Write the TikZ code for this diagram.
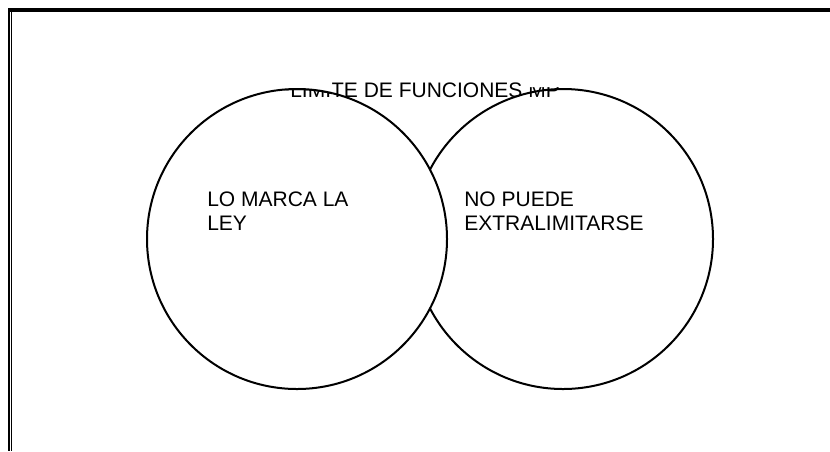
\documentclass[tikz,border=0pt]{standalone}
\usepackage{fontspec}
\setmainfont{Liberation Sans}

\begin{document}
\begin{tikzpicture}[x=0.75pt, y=-0.75pt, every node/.style={font=\fontsize{15.75}{18}\selectfont, inner sep=0pt}]

% --- Sizes, in pixels of the page ---
\def\pageW{830}
\def\pageH{451}
\def\setR{150}
\pgfmathsetmacro{\setD}{2*\setR*0.75}

\tikzset{
  vennset/.style={circle, draw=black, fill=white, line width=1.5pt, minimum size=\setD pt},
  setlabel/.style={anchor=north west, align=left}
}

\useasboundingbox (0,0) rectangle (\pageW,\pageH);

% --- Page frame ---
\draw[line width=3pt] (8,10) -- (\pageW,10);
\draw[line width=1.5pt] (9,8) -- (9,\pageH);
\draw[line width=0.75pt] (11.5,12) -- (11.5,\pageH);

% --- The two sets, the left one on top ---
\node[vennset] (rightset) at (563,239) {};
\node[vennset] (leftset) at (297,239) {};

% --- Title ---
\node[anchor=base west] (title) at (290,97) {LIMITE DE FUNCIONES MP};

% --- Title cut off above the arcs ---
\begin{scope}
  \clip (285,70) rectangle (332,100);
  \fill[white, even odd rule] (285,70) rectangle (332,100) (leftset.center) circle (\setR);
  \draw[line width=1.5pt] (leftset.center) circle (\setR);
\end{scope}
\begin{scope}
  \clip (525,70) rectangle (570,87);
  \fill[white, even odd rule] (525,70) rectangle (570,87) (rightset.center) circle (\setR);
  \draw[line width=1.5pt] (rightset.center) circle (\setR);
\end{scope}

% --- Labels inside the sets ---
\node[setlabel] (lawtext) at (207,192) {LO MARCA LA\\LEY};
\node[setlabel] (limittext) at (464,192) {NO PUEDE\\EXTRALIMITARSE};

\end{tikzpicture}
\end{document}
